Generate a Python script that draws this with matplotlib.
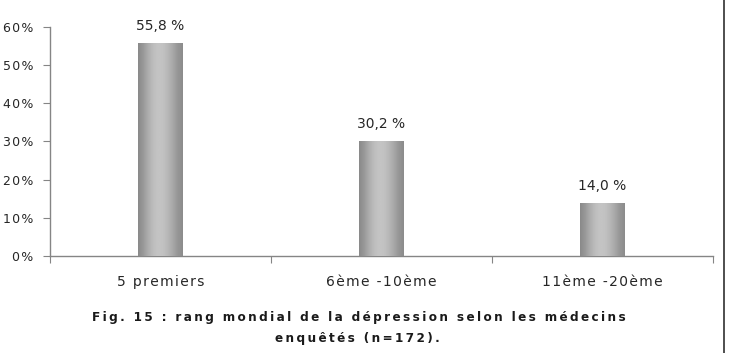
import matplotlib
matplotlib.use('Agg')
import matplotlib.pyplot as plt
import numpy as np
from matplotlib.lines import Line2D

categories = ['5 premiers', '6ème -10ème', '11ème -20ème']
values = [55.8, 30.2, 14.0]
value_labels = ['55,8 %', '30,2 %', '14,0 %']
yticks = [0, 10, 20, 30, 40, 50, 60]
caption = ['Fig. 15 : rang mondial de la dépression selon les médecins',
           'enquêtés (n=172).']

plt.rcParams['font.family'] = ['DejaVu Sans']
txt = '#262626'
axc = '#858585'


def spaced(s, sep='\u200a'):
    # letter spacing as in the original
    return sep.join(s)


fig = plt.figure(figsize=(7.3, 3.53), dpi=100)
ax = fig.add_axes([50 / 730, 97 / 353, 663 / 730, 229 / 353])

x = np.arange(len(categories))
bars = ax.bar(x, values, width=0.2, color='#a8a8a8', edgecolor='none', zorder=2)

# cylinder-like shading
grad = np.array([0.54, 0.60, 0.68, 0.74, 0.77, 0.76, 0.72, 0.66, 0.59, 0.55])
grad = np.interp(np.linspace(0, 9, 60), np.arange(10), grad)
for b in bars:
    x0, w, h = b.get_x(), b.get_width(), b.get_height()
    im = ax.imshow(grad[np.newaxis, :], cmap='gray', vmin=0, vmax=1, aspect='auto',
                   extent=[x0, x0 + w, 0, h], zorder=3, interpolation='bilinear')
    im.set_clip_path(b)

for xi, v, lab in zip(x, values, value_labels):
    ax.text(xi, v + 3.4, lab, ha='center', va='baseline', fontsize=10, color=txt)

ax.set_xlim(-0.5, 2.5)
ax.set_ylim(0, 60)
ax.set_yticks(yticks)
ax.set_yticklabels([spaced('%d%%' % t) for t in yticks], fontsize=9, color=txt)
ax.set_xticks([-0.5, 0.5, 1.5, 2.5])
ax.set_xticklabels([])
ax.set_xticks(x, minor=True)
ax.set_xticklabels([spaced(c) for c in categories], minor=True, fontsize=10, color=txt)
ax.tick_params(axis='x', which='minor', length=0, pad=14)
ax.tick_params(axis='x', which='major', length=5, color=axc, direction='out')
ax.tick_params(axis='y', length=5, color=axc, direction='out', pad=7)

for s in ['top', 'right']:
    ax.spines[s].set_visible(False)
for s in ['left', 'bottom']:
    ax.spines[s].set_color(axc)
    ax.spines[s].set_linewidth(1.0)

cap_kw = dict(ha='center', va='baseline', fontsize=9.6, fontweight='bold',
              fontstretch='condensed', color='#1a1a1a')
fig.text(358.5 / 730, 1 - 321 / 353, spaced(caption[0], '\u2009'), **cap_kw)
fig.text(357 / 730, 1 - 342 / 353, spaced(caption[1], '\u2009'), **cap_kw)

fig.add_artist(Line2D([723.5 / 730, 723.5 / 730], [0, 1], transform=fig.transFigure,
                      color='#404040', linewidth=1.3))

fig.savefig('out.png', dpi=100)
